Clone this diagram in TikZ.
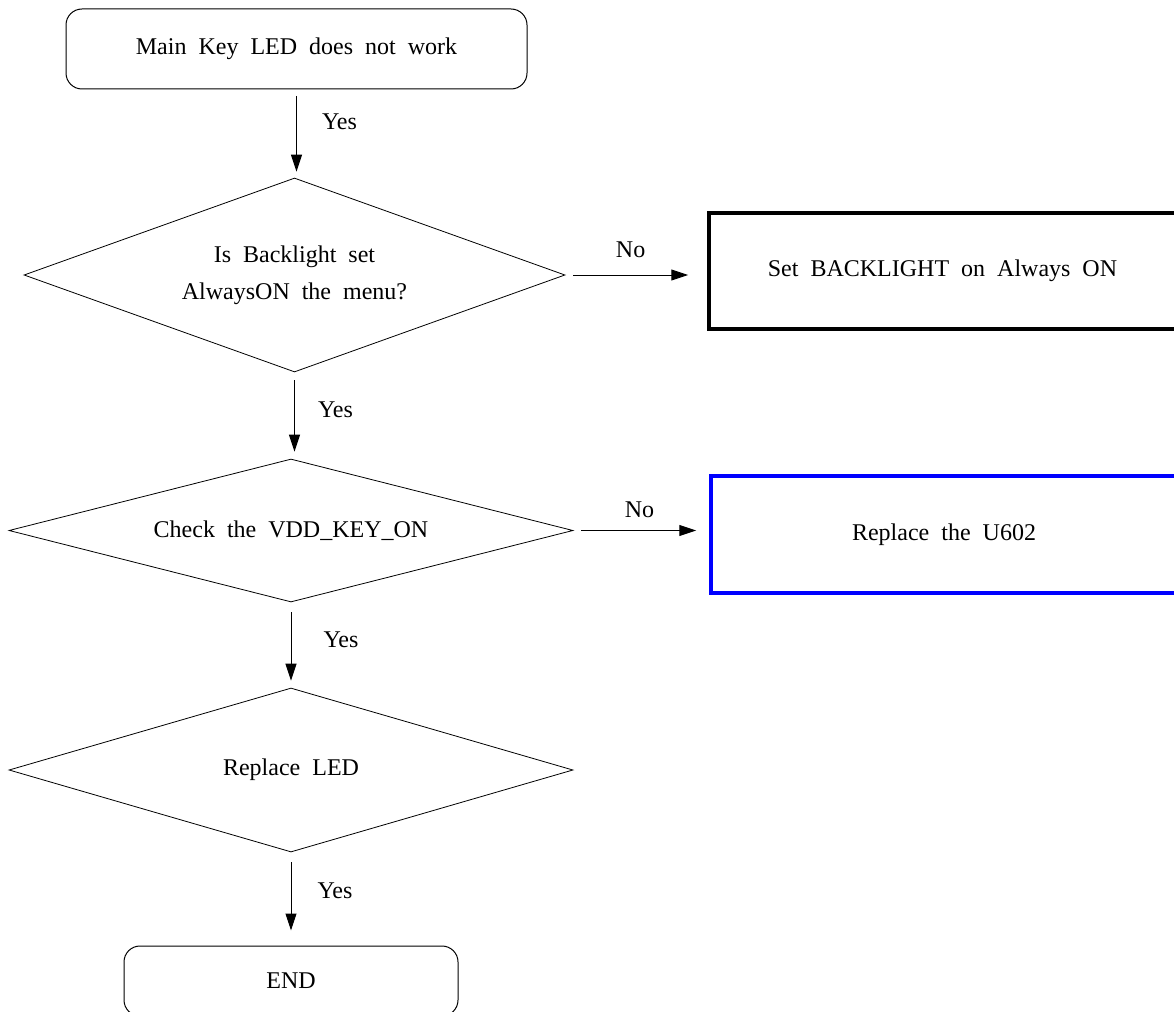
\documentclass[tikz,border=0pt]{standalone}
\usepackage{fontspec}
\setmainfont{Liberation Serif}[WordSpace=2.0]
\usetikzlibrary{shapes.geometric,arrows.meta}
\begin{document}
\begin{tikzpicture}[x=1pt,y=-1pt,
  every node/.style={font=\fontsize{24}{37}\selectfont},
  term/.style={draw,rounded corners=16pt,line width=1pt,inner sep=0pt},
  decision/.style={draw,diamond,line width=0.8pt,inner sep=0pt,align=center},
  action/.style={draw,rectangle,line width=3.5pt,inner sep=0pt},
  arr/.style={-{Triangle[length=17pt,width=11pt]},line width=1pt},
  ylab/.style={anchor=base west,inner sep=0pt,yshift=-8pt},
  nlab/.style={anchor=base,inner sep=0pt}
]
\clip (0,0) rectangle (1174,1011);
\node[term,minimum width=461pt,minimum height=80pt] (start) at (296.5,49) {Main Key LED does not work};
\node[decision,shape aspect=2.79,minimum width=541pt,minimum height=194pt] (d1) at (294.5,275) {Is Backlight set\\AlwaysON the menu?};
\node[decision,shape aspect=3.94,minimum width=564pt,minimum height=143pt] (d2) at (291,530.5) {Check the VDD\_KEY\_ON};
\node[decision,shape aspect=3.44,minimum width=564pt,minimum height=164pt] (d3) at (291,770) {Replace LED};
\node[term,minimum width=334pt,minimum height=70pt] (end) at (291,981) {END};
\node[action,draw=black,minimum width=467pt,minimum height=116pt] (b1) at (942.5,271) {Set BACKLIGHT on Always ON};
\node[action,draw=blue,minimum width=466pt,minimum height=117pt] (b2) at (944,534.5) {Replace the U602};

\draw[arr,shorten <=6.5pt,shorten >=6pt] (start.south) -- node[ylab,pos=0.36,xshift=25pt]{Yes} (start.south |- d1.north);
\draw[arr,shorten <=8pt,shorten >=7pt] (d1.south) -- node[ylab,pos=0.43,xshift=23pt]{Yes} (d1.south |- d2.north);
\draw[arr,shorten <=10pt,shorten >=7pt] (d2.south) -- node[ylab,pos=0.43,xshift=32pt]{Yes} (d2.south |- d3.north);
\draw[arr,shorten <=10pt,shorten >=15pt] (d3.south) -- node[ylab,pos=0.41,xshift=26pt]{Yes} (d3.south |- end.north);
\draw[arr,shorten <=8pt,shorten >=19pt] (d1.east) -- node[nlab,pos=0.46,yshift=17.5pt]{No} (d1.east -| b1.west);
\draw[arr,shorten <=8pt,shorten >=13pt] (d2.east) -- node[nlab,pos=0.486,yshift=13pt]{No} (d2.east -| b2.west);
\end{tikzpicture}
\end{document}
